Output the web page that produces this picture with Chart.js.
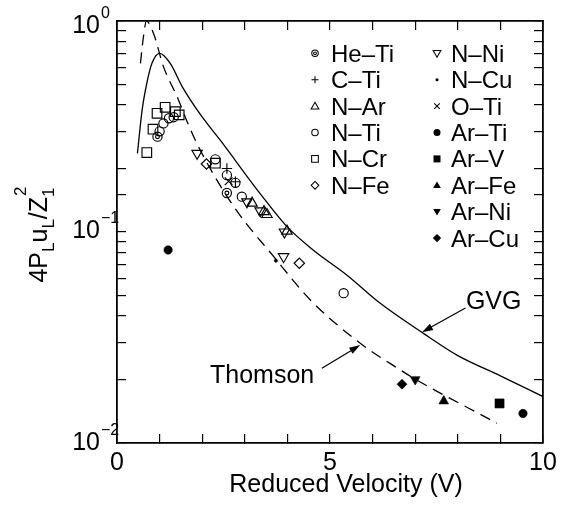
<!DOCTYPE html>
<html>
<head>
<meta charset="utf-8">
<script src="https://cdn.jsdelivr.net/npm/chart.js@4"></script>
<style>
  body { margin: 0; background: #fff; }
  canvas { display: block; }
</style>
</head>
<body>
<canvas id="chart" width="569" height="512"></canvas>
<script>
// --- Data: [reduced velocity, 4PLuL/Z1^2] ---
const heTi = [[0.95, 0.283], [2.58, 0.153]];
const cTi = [[2.58, 0.200], [2.78, 0.173]];
const nAr = [[3.17, 0.137], [3.45, 0.125], [3.52, 0.121], [3.99, 0.101]];
const nTi = [[1.00, 0.300], [1.09, 0.327], [1.22, 0.346], [1.33, 0.350], [2.31, 0.221], [2.58, 0.186], [2.78, 0.171], [2.93, 0.147], [5.32, 0.0513]];
const nCr = [[0.70, 0.238], [0.845, 0.307], [0.94, 0.365], [1.13, 0.390], [1.37, 0.372], [1.46, 0.359], [2.31, 0.212]];
const nFe = [[2.10, 0.210], [4.28, 0.0711]];
const nNi = [[1.88, 0.236], [3.05, 0.139], [3.36, 0.126], [3.91, 0.0764], [3.93, 0.100]];
const nCu = [[3.73, 0.0731]];
const oTi = [[2.62, 0.174]];
const arTi = [[1.20, 0.0822], [9.53, 0.0138]];
const arV = [[8.98, 0.0154]];
const arFe = [[7.67, 0.0158]];
const arNi = [[7.00, 0.0200]];
const arCu = [[6.69, 0.0190]];

// GVG (solid) and Thomson (dashed) curves
const gvgV = [0.48, 0.59, 0.70, 0.82, 1.00, 1.25, 1.53, 1.96, 2.42, 3.36, 3.99, 4.61, 5.40, 6.18, 7.20, 7.98, 9.00, 10.0];
const gvgY = [0.236, 0.379, 0.507, 0.630, 0.703, 0.630, 0.489, 0.360, 0.273, 0.152, 0.106, 0.082, 0.0624, 0.0459, 0.0330, 0.0261, 0.0208, 0.0166];
const thomV = [0.55, 0.62, 0.69, 0.86, 1.09, 1.41, 1.68, 1.95, 2.74, 3.68, 4.54, 5.71, 6.65, 6.96, 8.92];
const thomY = [0.63, 0.84, 1.00, 0.87, 0.608, 0.438, 0.321, 0.245, 0.132, 0.0764, 0.0476, 0.0297, 0.0222, 0.0203, 0.0124];

// Axis tick labels
const xTickValues = [0, 5, 10];
const xTickLabels = ['0', '5', '10'];
const yTickValues = [1, 0.1, 0.01];
const yTickExponents = ['0', '\u22121', '\u22122'];

// Legend columns
const legendLeft = ['He\u2013Ti', 'C\u2013Ti', 'N\u2013Ar', 'N\u2013Ti', 'N\u2013Cr', 'N\u2013Fe'];
const legendRight = ['N\u2013Ni', 'N\u2013Cu', 'O\u2013Ti', 'Ar\u2013Ti', 'Ar\u2013V', 'Ar\u2013Fe', 'Ar\u2013Ni', 'Ar\u2013Cu'];

const FONT = '"Liberation Sans", Arial, Helvetica, sans-serif';
const OPEN = 'rgba(0,0,0,0)';

// marker -> Chart.js point options
const MARKERS = {
    circle:   { pointStyle: 'circle', pointRadius: 4.6, fill: false },
    plus:     { pointStyle: 'cross', pointRadius: 5.2, fill: false },
    cross:    { pointStyle: 'crossRot', pointRadius: 5.5, fill: false },
    tri:      { pointStyle: 'triangle', pointRadius: 6, fill: false },
    triDown:  { pointStyle: 'triangle', pointRadius: 6, rotation: 180, fill: false },
    square:   { pointStyle: 'rect', pointRadius: 6.8, fill: false },
    diamond:  { pointStyle: 'rectRot', pointRadius: 5.2, fill: false },
    dot:      { pointStyle: 'circle', pointRadius: 1.6, fill: true },
    fCircle:  { pointStyle: 'circle', pointRadius: 4.2, fill: true },
    fSquare:  { pointStyle: 'rect', pointRadius: 6.4, fill: true },
    fTri:     { pointStyle: 'triangle', pointRadius: 5.6, fill: true },
    fTriDown: { pointStyle: 'triangle', pointRadius: 5.6, rotation: 180, fill: true },
    fDiamond: { pointStyle: 'rectRot', pointRadius: 5, fill: true }
};

const series = [
    { data: heTi, marker: 'circle', inner: true },
    { data: cTi, marker: 'plus' },
    { data: nAr, marker: 'tri' },
    { data: nTi, marker: 'circle' },
    { data: nCr, marker: 'square' },
    { data: nFe, marker: 'diamond' },
    { data: nNi, marker: 'triDown' },
    { data: nCu, marker: 'dot' },
    { data: oTi, marker: 'cross' },
    { data: arTi, marker: 'fCircle' },
    { data: arV, marker: 'fSquare' },
    { data: arFe, marker: 'fTri' },
    { data: arNi, marker: 'fTriDown' },
    { data: arCu, marker: 'fDiamond' }
];

function pointDataset(data, m) {
    return {
        data: data.map(p => ({ x: p[0], y: p[1] })),
        showLine: false,
        pointStyle: m.pointStyle,
        pointRadius: m.pointRadius,
        pointRotation: m.rotation || 0,
        pointBorderColor: '#000',
        pointBackgroundColor: m.fill ? '#000' : OPEN,
        pointBorderWidth: m.fill ? 0.6 : 1.15,
        order: 1
    };
}

const datasets = [];
series.forEach(s => {
    datasets.push(pointDataset(s.data, MARKERS[s.marker]));
    if (s.inner) {
        // double circle: add the small inner ring
        datasets.push(pointDataset(s.data, { pointStyle: 'circle', pointRadius: 1.9, fill: false }));
    }
});

datasets.push({
    data: gvgV.map((v, i) => ({ x: v, y: gvgY[i] })),
    showLine: true, borderColor: '#000', borderWidth: 1.3,
    pointRadius: 0, cubicInterpolationMode: 'monotone', order: 5
});
datasets.push({
    data: thomV.map((v, i) => ({ x: v, y: thomY[i] })),
    showLine: true, borderColor: '#000', borderWidth: 1.3, borderDash: [11, 7],
    pointRadius: 0, cubicInterpolationMode: 'monotone', order: 5
});

// --- Legend marker shapes (vector, drawn directly) ---
function legendShape(g, type, x, y) {
    g.save();
    g.translate(x, y);
    g.scale(0.7, 0.7);
    g.lineWidth = 1.5;
    g.beginPath();
    switch (type) {
        case 'dcircle':
            g.arc(0, 0, 4.6, 0, Math.PI * 2); g.stroke();
            g.beginPath(); g.arc(0, 0, 2.0, 0, Math.PI * 2); g.stroke(); break;
        case 'circle': g.arc(0, 0, 4.6, 0, Math.PI * 2); g.stroke(); break;
        case 'plus': g.moveTo(-5, 0); g.lineTo(5, 0); g.moveTo(0, -5); g.lineTo(0, 5); g.stroke(); break;
        case 'cross': g.moveTo(-4, -4); g.lineTo(4, 4); g.moveTo(4, -4); g.lineTo(-4, 4); g.stroke(); break;
        case 'tri': g.moveTo(0, -5.5); g.lineTo(5.5, 4); g.lineTo(-5.5, 4); g.closePath(); g.stroke(); break;
        case 'triDown': g.moveTo(0, 5.5); g.lineTo(5.5, -4); g.lineTo(-5.5, -4); g.closePath(); g.stroke(); break;
        case 'square': g.rect(-4.8, -4.8, 9.6, 9.6); g.stroke(); break;
        case 'diamond': g.moveTo(0, -5.5); g.lineTo(5.5, 0); g.lineTo(0, 5.5); g.lineTo(-5.5, 0); g.closePath(); g.stroke(); break;
        case 'dot': g.arc(0, 0, 2.2, 0, Math.PI * 2); g.fill(); break;
        case 'fCircle': g.arc(0, 0, 5, 0, Math.PI * 2); g.fill(); break;
        case 'fSquare': g.rect(-5, -5, 10, 10); g.fill(); break;
        case 'fTri': g.moveTo(0, -5.5); g.lineTo(5.5, 4); g.lineTo(-5.5, 4); g.closePath(); g.fill(); break;
        case 'fTriDown': g.moveTo(0, 5.5); g.lineTo(5.5, -4); g.lineTo(-5.5, -4); g.closePath(); g.fill(); break;
        case 'fDiamond': g.moveTo(0, -6); g.lineTo(6, 0); g.lineTo(0, 6); g.lineTo(-6, 0); g.closePath(); g.fill(); break;
    }
    g.restore();
}

function arrow(ctx, x1, y1, x2, y2) {
    const a = Math.atan2(y2 - y1, x2 - x1);
    ctx.beginPath();
    ctx.moveTo(x1, y1);
    ctx.lineTo(x2 - 8 * Math.cos(a), y2 - 8 * Math.sin(a));
    ctx.stroke();
    ctx.beginPath();
    ctx.moveTo(x2, y2);
    ctx.lineTo(x2 - 11 * Math.cos(a) + 3.5 * Math.sin(a), y2 - 11 * Math.sin(a) - 3.5 * Math.cos(a));
    ctx.lineTo(x2 - 11 * Math.cos(a) - 3.5 * Math.sin(a), y2 - 11 * Math.sin(a) + 3.5 * Math.cos(a));
    ctx.closePath();
    ctx.fill();
}

// --- Labels, legend, arrows ---
const decorPlugin = {
    id: 'decor',
    afterDraw(chart) {
        const ctx = chart.ctx;
        const xs = chart.scales.x, ys = chart.scales.y;
        ctx.save();
        ctx.setLineDash([]);
        ctx.fillStyle = '#000';
        ctx.strokeStyle = '#000';

        // x tick labels
        ctx.font = '25px ' + FONT;
        ctx.textAlign = 'center';
        ctx.textBaseline = 'alphabetic';
        xTickValues.forEach((v, i) => {
            ctx.fillText(xTickLabels[i], xs.getPixelForValue(v), 470);
        });

        // y tick labels 10^n
        const baseOff = [12, 6, 7];
        yTickValues.forEach((v, i) => {
            const py = ys.getPixelForValue(v) + baseOff[i];
            ctx.font = '25px ' + FONT;
            ctx.textAlign = 'right';
            ctx.fillText('10', 100, py);
            ctx.font = '16px ' + FONT;
            ctx.textAlign = 'left';
            ctx.fillText(yTickExponents[i], 101, py - 15);
        });

        // x axis title
        ctx.font = '25px ' + FONT;
        ctx.textAlign = 'center';
        ctx.fillText('Reduced Velocity (V)', 346, 492);

        // y axis title: 4P_L u_L / Z_1^2
        ctx.save();
        ctx.translate(47, 235);
        ctx.rotate(-Math.PI / 2);
        const parts = [
            { t: '4P', f: 25, dy: 0 },
            { t: 'L', f: 17, dy: 7 },
            { t: 'u', f: 25, dy: 0 },
            { t: 'L', f: 17, dy: 7 },
            { t: '/Z', f: 25, dy: 0 },
            { t: '1', f: 17, dy: 7, sup: '2' }
        ];
        let total = 0;
        parts.forEach(p => { ctx.font = p.f + 'px ' + FONT; p.w = ctx.measureText(p.t).width; total += p.w; });
        let cx = -total / 2;
        ctx.textAlign = 'left';
        parts.forEach(p => {
            ctx.font = p.f + 'px ' + FONT;
            ctx.fillText(p.t, cx, p.dy);
            if (p.sup) ctx.fillText(p.sup, cx + 1, -21);
            cx += p.w;
        });
        ctx.restore();

        // legend
        ctx.font = '24px ' + FONT;
        ctx.textAlign = 'left';
        const rowY = i => 53.3 + 26.4 * i;
        const legendMarks = series.map(s => s.inner ? 'dcircle' : s.marker);
        legendLeft.forEach((name, i) => {
            legendShape(ctx, legendMarks[i], 315, rowY(i));
            ctx.fillText(name, 331, rowY(i) + 8.5);
        });
        legendRight.forEach((name, i) => {
            legendShape(ctx, legendMarks[i + 6], 437, rowY(i));
            ctx.fillText(name, 451, rowY(i) + 8.5);
        });

        // curve annotations
        ctx.font = '25px ' + FONT;
        ctx.textAlign = 'left';
        ctx.fillText('GVG', xs.getPixelForValue(8.19), ys.getPixelForValue(0.0436) + 0.5);
        ctx.textAlign = 'right';
        ctx.fillText('Thomson', xs.getPixelForValue(4.63), 383);
        ctx.lineWidth = 1.2;
        arrow(ctx, xs.getPixelForValue(8.18), ys.getPixelForValue(0.0436), xs.getPixelForValue(7.16), ys.getPixelForValue(0.0335));
        arrow(ctx, xs.getPixelForValue(4.81), ys.getPixelForValue(0.0226), xs.getPixelForValue(5.71), ys.getPixelForValue(0.0291));
        ctx.restore();
    }
};

// native Chart.js axes: border line plus inward ticks, no labels, zero footprint
function frameAxis(type, position, min, max, extra) {
    const horizontal = position === 'top' || position === 'bottom';
    return Object.assign({
        type, position, min, max,
        ticks: { display: false },
        grid: { display: true, drawOnChartArea: false, drawTicks: true, tickLength: -9, color: '#000', lineWidth: 1.2 },
        border: { display: true, color: '#000', width: 1.8 },
        afterFit: s => { if (horizontal) s.height = 0; else s.width = 0; }
    }, extra || {});
}

new Chart(document.getElementById('chart'), {
    type: 'scatter',
    data: { datasets },
    options: {
        responsive: false,
        animation: false,
        events: [],
        layout: { padding: { left: 117, right: 26, top: 21, bottom: 69 } },
        plugins: { legend: { display: false }, tooltip: { enabled: false } },
        scales: {
            x: frameAxis('linear', 'bottom', 0, 10, { ticks: { display: false, stepSize: 1 } }),
            x2: frameAxis('linear', 'top', 0, 10, { ticks: { display: false, stepSize: 1 } }),
            y: frameAxis('logarithmic', 'left', 0.01, 1),
            y2: frameAxis('logarithmic', 'right', 0.01, 1)
        }
    },
    plugins: [decorPlugin]
});
</script>
</body>
</html>
